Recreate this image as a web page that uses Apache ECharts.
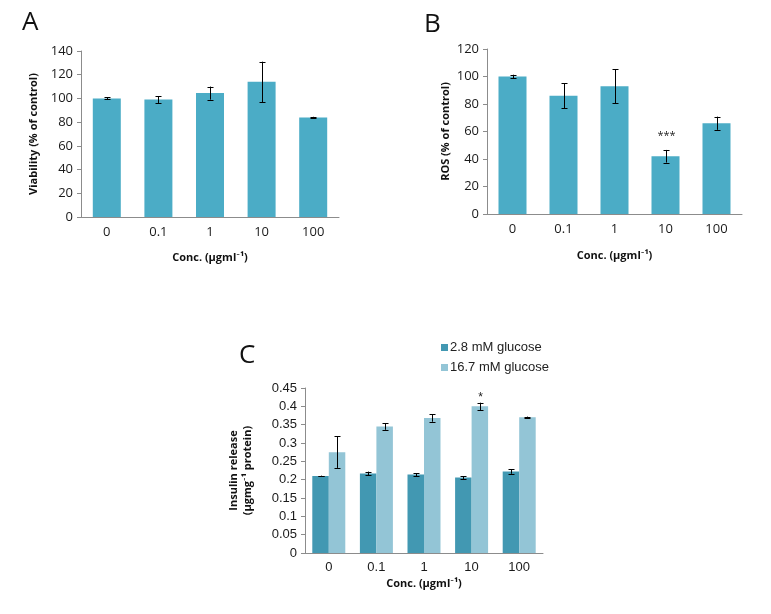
<!DOCTYPE html>
<html>
<head>
<meta charset="utf-8">
<script src="https://cdn.jsdelivr.net/npm/echarts@6/dist/echarts.min.js"></script>
<style>html,body{margin:0;padding:0;background:#fff}#c{width:771px;height:614px}</style>
</head>
<body>
<div id="c"></div>
<script>
// ---- data ----
var categories = ['0', '0.1', '1', '10', '100'];
var viability = [100, 99, 104.5, 114, 84];
var viabilityErr = [0.8, 3, 5.5, 17, 0.5];
var ros = [100, 86, 93, 42, 66];
var rosErr = [1.3, 9, 12.3, 4.6, 4.8];
var rosMarks = ['', '', '', '***', ''];
var insulinLow = [0.21, 0.217, 0.214, 0.206, 0.222];
var insulinLowErr = [0.001, 0.005, 0.004, 0.004, 0.006];
var insulinHigh = [0.275, 0.345, 0.368, 0.400, 0.370];
var insulinHighErr = [0.043, 0.009, 0.010, 0.010, 0.002];
var insulinHighMarks = ['', '', '', '*', ''];
var seriesNames = ['2.8 mM glucose', '16.7 mM glucose'];
var xTitle = 'Conc. (\u00b5gml\u207b\u00b9)';

var chart = echarts.init(document.getElementById('c'));
var calFont = '"Open Sans", Lato, sans-serif';
var arialFont = '"Liberation Sans", Arial, sans-serif';
var axisGray = '#8c8c8c';

function errData(vals, errs) {
  return vals.map(function (v, i) { return [i, v, errs[i]]; });
}
function makeErr(offset, marks, markFont, markGap) {
  return function (params, api) {
    var i = api.value(0), v = api.value(1), e = api.value(2);
    var top = api.coord([i, v + e]);
    var bot = api.coord([i, v - e]);
    var x = Math.round(top[0] + offset) + 0.5;
    var st = { stroke: '#000', lineWidth: 1 };
    var cap = 3;
    var children = [
      { type: 'line', shape: { x1: x, y1: top[1], x2: x, y2: bot[1] }, style: st },
      { type: 'line', shape: { x1: x - cap, y1: Math.round(top[1]) + 0.5, x2: x + cap, y2: Math.round(top[1]) + 0.5 }, style: st },
      { type: 'line', shape: { x1: x - cap, y1: Math.round(bot[1]) + 0.5, x2: x + cap, y2: Math.round(bot[1]) + 0.5 }, style: st }
    ];
    if (marks && marks[params.dataIndex]) {
      children.push({ type: 'text', style: { text: marks[params.dataIndex], x: x, y: top[1] - markGap, align: 'center', verticalAlign: 'middle', font: markFont, fill: '#222' } });
    }
    return { type: 'group', children: children };
  };
}

function yAxisBase(gridIndex, max, interval, font, size, name, nameGap, margin) {
  return {
    type: 'value', gridIndex: gridIndex, min: 0, max: max, interval: interval,
    axisLine: { show: true, lineStyle: { color: axisGray } },
    axisTick: { show: true, length: 4, lineStyle: { color: axisGray } },
    splitLine: { show: false },
    axisLabel: { color: '#1a1a1a', fontFamily: font, fontSize: size, margin: margin },
    name: name, nameLocation: 'middle', nameGap: nameGap, nameRotate: 90,
    nameTextStyle: { fontFamily: calFont, fontWeight: 'bold', fontSize: 11, color: '#111', lineHeight: 14 }
  };
}
function xAxisBase(gridIndex, font, size, nameGap, margin) {
  return {
    type: 'category', gridIndex: gridIndex, data: categories,
    axisLine: { show: true, lineStyle: { color: axisGray } },
    axisTick: { show: false },
    axisLabel: { color: '#1a1a1a', fontFamily: font, fontSize: size, margin: margin },
    name: xTitle, nameLocation: 'middle', nameGap: nameGap,
    nameTextStyle: { fontFamily: calFont, fontWeight: 'bold', fontSize: 11, color: '#111' }
  };
}

var option = {
  animation: false,
  backgroundColor: '#fff',
  grid: [
    { left: 81, top: 51, width: 258, height: 166 },
    { left: 487, top: 49, width: 255, height: 165 },
    { left: 305, top: 388, width: 238, height: 165 }
  ],
  xAxis: [
    xAxisBase(0, calFont, 13, 35, 9),
    xAxisBase(1, calFont, 13, 36, 9),
    xAxisBase(2, arialFont, 13, 25, 8)
  ],
  yAxis: [
    yAxisBase(0, 140, 20, calFont, 13, 'Viability (% of control)', 40, 8),
    yAxisBase(1, 120, 20, calFont, 13, 'ROS (% of control)', 32, 8),
    yAxisBase(2, 0.45, 0.05, arialFont, 13, 'Insulin release\n(\u00b5gmg\u207b\u00b9 protein)', 50, 8)
  ],
  legend: {
    data: seriesNames, orient: 'vertical', left: 436, top: 336,
    itemWidth: 7, itemHeight: 7, itemGap: 7, icon: 'rect',
    textStyle: { fontFamily: arialFont, fontSize: 13, color: '#222', padding: [0, 0, 0, -3] }
  },
  graphic: [
    { type: 'text', left: 22, top: 10, style: { text: 'A', font: '26px ' + calFont, fill: '#111' } },
    { type: 'text', left: 424, top: 12, style: { text: 'B', font: '26px ' + calFont, fill: '#111' } },
    { type: 'text', left: 239, top: 343, style: { text: 'C', font: '26px ' + calFont, fill: '#111' } }
  ],
  series: [
    { type: 'bar', xAxisIndex: 0, yAxisIndex: 0, data: viability, barWidth: 28, itemStyle: { color: '#4bacc6' } },
    { type: 'custom', xAxisIndex: 0, yAxisIndex: 0, data: errData(viability, viabilityErr), renderItem: makeErr(0), z: 5 },
    { type: 'bar', xAxisIndex: 1, yAxisIndex: 1, data: ros, barWidth: 28, itemStyle: { color: '#4bacc6' } },
    { type: 'custom', xAxisIndex: 1, yAxisIndex: 1, data: errData(ros, rosErr), renderItem: makeErr(0, rosMarks, '11px ' + calFont, 14), z: 5 },
    { type: 'bar', name: seriesNames[0], xAxisIndex: 2, yAxisIndex: 2, data: insulinLow, barWidth: 16.5, barGap: '0%', itemStyle: { color: '#4298b2' } },
    { type: 'bar', name: seriesNames[1], xAxisIndex: 2, yAxisIndex: 2, data: insulinHigh, barWidth: 16.5, barGap: '0%', itemStyle: { color: '#93c5d6' } },
    { type: 'custom', xAxisIndex: 2, yAxisIndex: 2, data: errData(insulinLow, insulinLowErr), renderItem: makeErr(-8.25), z: 5 },
    { type: 'custom', xAxisIndex: 2, yAxisIndex: 2, data: errData(insulinHigh, insulinHighErr), renderItem: makeErr(8.25, insulinHighMarks, '12px ' + arialFont, 5), z: 5 }
  ]
};
chart.setOption(option);
</script>
</body>
</html>
